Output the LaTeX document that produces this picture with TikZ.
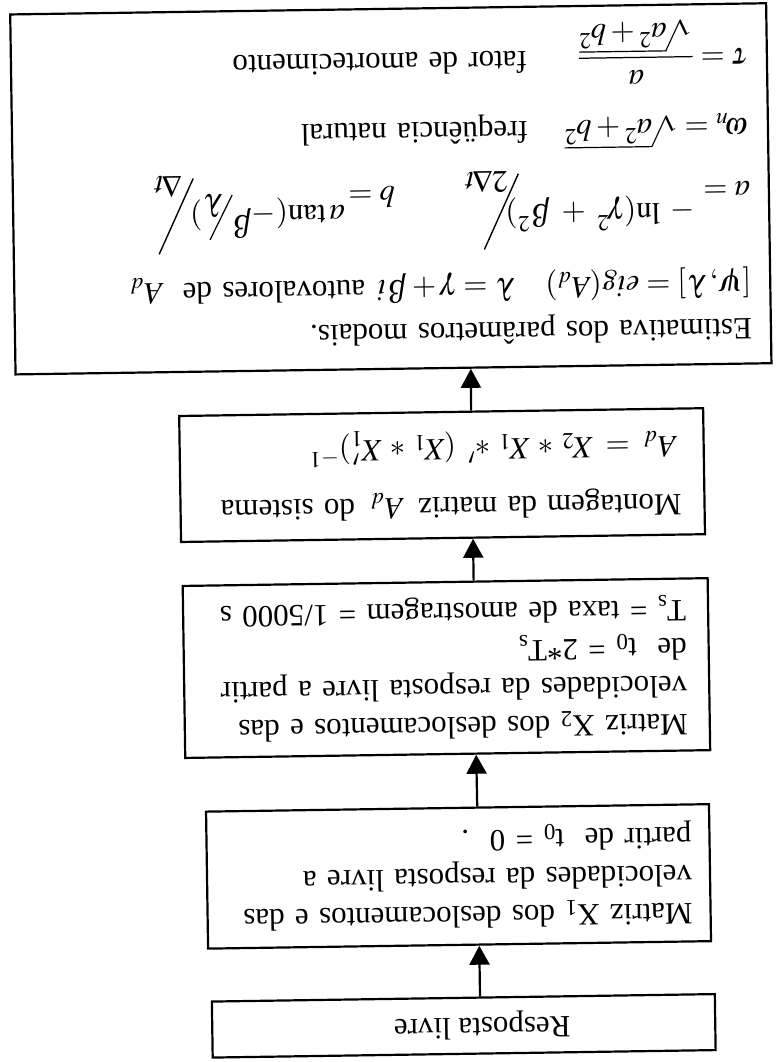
\documentclass[tikz,border=0pt]{standalone}
\usepackage{mathptmx}
\usepackage{amsmath}
\usepackage{fontspec}
\setmainfont{Liberation Serif}
\usetikzlibrary{arrows.meta,calc}
\newcommand\mybigsl{\raisebox{-11pt}{\rotatebox{65}{\rule{83pt}{1.4pt}}}}
\newcommand\mysmsl{\raisebox{-12pt}{\rotatebox{63}{\rule{50pt}{1.2pt}}}}
\newcommand\myaexpr{$a =$\kern9pt\raisebox{21pt}{$-\;\ln(\gamma^2 \;+\; \beta^2)$}\kern-14pt\mybigsl\kern-25pt\raisebox{-13pt}{$2\Delta t$}}
\newcommand\mybexpr{$b =$\kern4pt\raisebox{18pt}{$a\tan(-$\raisebox{9pt}{$\beta$}\kern-2pt\mysmsl\kern-14pt\raisebox{-12pt}{$\lambda$}$)$}\kern-4pt\mybigsl\kern-24pt\raisebox{-13pt}{$\Delta t$}}
\begin{document}
\begin{tikzpicture}[
  box/.style={draw, line width=2.2pt, rectangle, anchor=north west, inner ysep=0pt, align=left},
  arr/.style={draw, line width=2.2pt, -{Triangle[length=19pt,width=20pt]}},
  every node/.style={font=\fontsize{31}{38}\selectfont}
]
\fill[white] (0,0) rectangle (776pt,-1062pt);
\useasboundingbox (0,0) rectangle (776pt,-1062pt);
\begin{scope}[rotate around={180.85:(388pt,-531pt)}, transform shape]
\node[box, align=center, minimum width=503pt, minimum height=56pt, inner xsep=0pt] (resp) at (67pt,-6pt) {\hspace*{-37pt}Resposta livre};
\node[box, text width=467pt, inner xsep=18pt, minimum height=137pt] (x1) at (70pt,-115pt) {%
Matriz X\textsubscript{1} dos deslocamentos e das\\
velocidades da resposta livre a\\
partir de\ \ t\textsubscript{0} = 0\ \ .};
\node[box, text width=481pt, inner xsep=22pt, minimum height=172pt] (x2) at (68pt,-306pt) {%
Matriz X\textsubscript{2} dos deslocamentos e das\\
velocidades da resposta livre a partir\\
de\ \ t\textsubscript{0} = 2*T\textsubscript{s}\\
T\textsubscript{s} = taxa de amostragem = 1/5000 s};
\node[box, text width=484pt, inner xsep=20pt, minimum height=126pt] (mont) at (70pt,-522pt) {%
\hspace*{3pt}\mbox{Montagem da matriz\ \,$A_d$\ \,do sistema}\\[20pt]
\hspace*{8pt}$\medmuskip=5mu \thickmuskip=8mu A_d = X_2 * X_1 *' \,(X_1 * X_1')^{-1}$};
\node[box, text width=718pt, inner xsep=19pt, minimum height=360pt] (est) at (1pt,-692pt) {%
\smash{Estimativa dos parâmetros modais.}\\[6pt]
\smash{\makebox[236pt][l]{$[\psi, \lambda] = \mathit{eig}(A_d)$}\makebox[150pt][l]{$\medmuskip=3mu \thickmuskip=4mu \lambda = \gamma + \beta i$}autovalores de\ \ $A_d$}\\[56pt]
\smash{\makebox[355pt][l]{\myaexpr}\mybexpr}\\[25pt]
\smash{\makebox[221pt][l]{$\omega_n = \sqrt{a^2+b^2}$}freqüência natural}\\[32pt]
\smash{\makebox[221pt][l]{$\tau = \dfrac{a}{\sqrt{a^2+b^2}}$}fator de amortecimento}};
\draw[arr] ($(resp.south west)!0.467!(resp.south east)$) -- ($(x1.north west)!0.461!(x1.north east)$);
\draw[arr] ($(x1.south west)!0.461!(x1.south east)$) -- ($(x2.north west)!0.446!(x2.north east)$);
\draw[arr] ($(x2.south west)!0.446!(x2.south east)$) -- ($(mont.north west)!0.443!(mont.north east)$);
\draw[arr] ($(mont.south west)!0.443!(mont.south east)$) -- ($(est.north west)!0.398!(est.north east)$);
\end{scope}
\end{tikzpicture}
\end{document}
